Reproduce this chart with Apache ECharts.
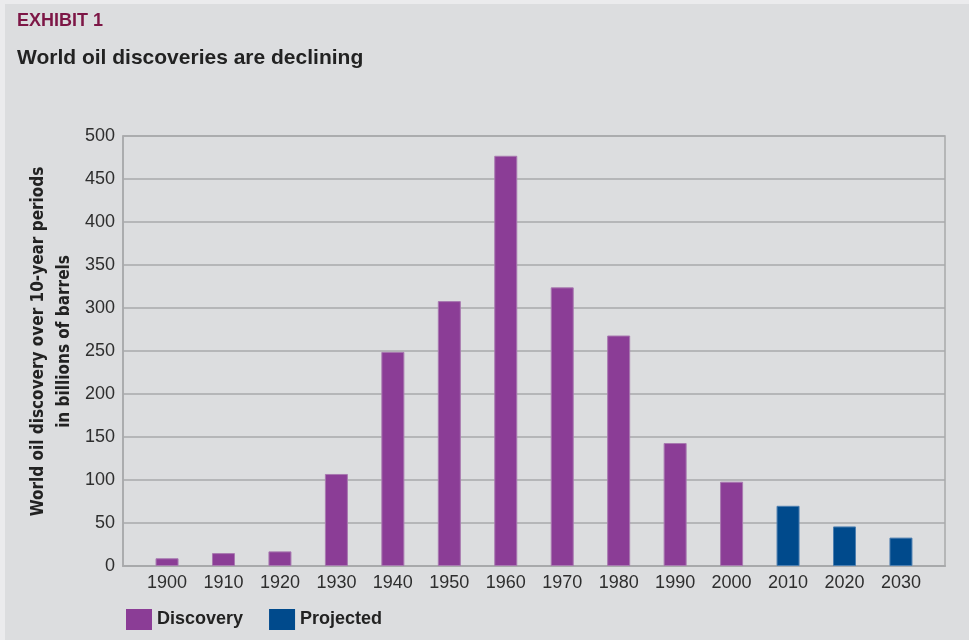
<!DOCTYPE html>
<html>
<head>
<meta charset="utf-8">
<script src="https://cdn.jsdelivr.net/npm/echarts@6/dist/echarts.min.js"></script>
<style>
html,body{margin:0;padding:0;background:#ebebed;}
#wrap{position:absolute;left:0;top:0;width:969px;height:640px;}
#chart{position:absolute;left:5px;top:4px;width:964px;height:636px;background:#dcdddf;}
</style>
</head>
<body>
<div id="wrap"><div id="chart"></div></div>
<script>
// Data
const discoveryYears = [1900, 1910, 1920, 1930, 1940, 1950, 1960, 1970, 1980, 1990, 2000];
const discoveryValues = [9, 15, 17, 107, 249, 308, 477, 324, 268, 143, 98];
const projectedYears = [2010, 2020, 2030];
const projectedValues = [70, 46, 33];
const yTicks = [0, 50, 100, 150, 200, 250, 300, 350, 400, 450, 500];
const xTickLabels = [1900, 1910, 1920, 1930, 1940, 1950, 1960, 1970, 1980, 1990, 2000, 2010, 2020, 2030];
const yAxisTitle = 'World oil discovery over 10-year periods\nin billions of barrels';

const chart = echarts.init(document.getElementById('chart'), null, {renderer: 'canvas'});
const sans = '"Liberation Sans", Arial, sans-serif';

const option = {
  backgroundColor: 'transparent',
  animation: false,
  title: [
    {
      text: 'EXHIBIT 1',
      left: 12, top: 8, padding: 0,
      textStyle: {fontFamily: sans, fontWeight: 'bold', fontSize: 18, color: '#7d1646'}
    },
    {
      text: 'World oil discoveries are declining',
      left: 12, top: 44, padding: 0,
      textStyle: {fontFamily: sans, fontWeight: 'bold', fontSize: 21, color: '#222222'}
    }
  ],
  graphic: [
    {
      type: 'text',
      x: 47, y: 337.5,
      rotation: Math.PI / 2,
      style: {
        text: yAxisTitle,
        align: 'center', verticalAlign: 'middle',
        fontFamily: '"DejaVu Sans Condensed", "DejaVu Sans", sans-serif',
        fontWeight: 'bold', fontSize: 17, lineHeight: 26,
        fill: '#222222'
      }
    }
  ],
  legend: {
    left: 116, top: 600,
    itemWidth: 26, itemHeight: 21, itemGap: 26,
    icon: 'rect',
    itemStyle: {borderWidth: 0},
    textStyle: {fontFamily: sans, fontWeight: 'bold', fontSize: 18, color: '#222222'},
    data: ['Discovery', 'Projected']
  },
  grid: {
    left: 118, right: 24, top: 132, bottom: 74,
    show: true, borderColor: '#a8a9ab', borderWidth: 1.5, backgroundColor: 'transparent',
    containLabel: false
  },
  xAxis: {
    type: 'value',
    min: 1892.2, max: 2037.8,
    splitLine: {show: false},
    axisLine: {show: true, lineStyle: {color: '#a8a9ab', width: 2}},
    axisTick: {show: false},
    axisLabel: {
      customValues: xTickLabels,
      fontFamily: sans, fontSize: 18, color: '#2e2e2e', margin: 8,
      formatter: v => String(v)
    }
  },
  yAxis: {
    type: 'value',
    min: 0, max: 500, interval: 50,
    axisLine: {show: true, lineStyle: {color: '#a8a9ab', width: 1.5}},
    axisTick: {show: false},
    splitLine: {show: true, lineStyle: {color: '#a8a9ab', width: 1.5}},
    axisLabel: {fontFamily: sans, fontSize: 18, color: '#2e2e2e', margin: 8,
      customValues: yTicks}
  },
  series: [
    {
      name: 'Discovery',
      type: 'bar',
      barWidth: 23,
      barGap: '-100%',
      itemStyle: {color: '#8b3d96', borderColor: '#a879b0', borderWidth: 1},
      data: discoveryYears.map((y, i) => [y, discoveryValues[i]])
    },
    {
      name: 'Projected',
      type: 'bar',
      barWidth: 23,
      barGap: '-100%',
      itemStyle: {color: '#004a8c', borderColor: '#4d7fb0', borderWidth: 1},
      data: projectedYears.map((y, i) => [y, projectedValues[i]])
    }
  ]
};
chart.setOption(option);
</script>
</body>
</html>
